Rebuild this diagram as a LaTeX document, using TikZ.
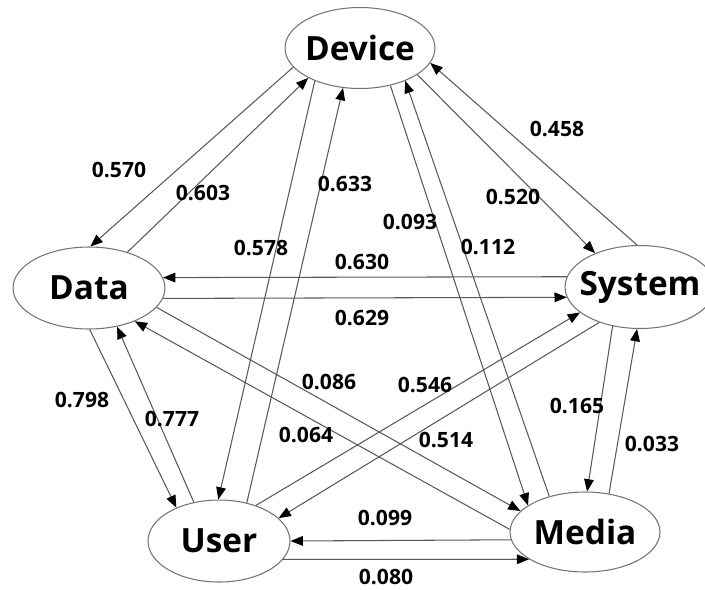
\documentclass[tikz,border=0pt]{standalone}
\usepackage{fontspec}
\setmainfont{Open Sans}
\usetikzlibrary{shapes.geometric,arrows.meta}
\newcommand{\fname}[1]{\makebox[0pt]{#1}}

\begin{document}
\begin{tikzpicture}[x=0.02cm, y=-0.02cm,
  factor/.style={ellipse, draw=black!55, line width=0.6pt, inner sep=0pt, minimum width=3cm, minimum height=1.62cm, font=\bfseries\fontsize{19}{19}\selectfont},
  weight/.style={inner sep=1pt, font=\bfseries\fontsize{12}{12}\selectfont},
  link/.style={draw=black!65, line width=0.6pt, -{Triangle[length=7pt, width=5.5pt, black]}}]
\useasboundingbox (0,0) rectangle (705,589);

\node[factor] (dev) at (360,48) {\fname{Device}};
\node[factor, minimum width=3.04cm, minimum height=1.64cm] (data) at (89,288) {\fname{Data}};
\node[factor, minimum height=1.66cm] (sys) at (640,287) {\fname{System}};
\node[factor, minimum width=2.84cm, minimum height=1.64cm] (user) at (219,541) {\fname{User}};
\node[factor, minimum height=1.6cm] (med) at (585,532) {\fname{Media}};

\draw[link] (dev.196) -- (data.88);
\draw[link] (data.43) -- (dev.210);
\draw[link] (dev.216) -- (user.91);
\draw[link] (user.54) -- (dev.247);
\draw[link] (dev.309) -- (med.155);
\draw[link] (med.135) -- (dev.324);
\draw[link] (dev.335) -- (sys.143);
\draw[link] (sys.94) -- (dev.348);
\draw[link] (sys.172) -- (data.8);
\draw[link] (data.352) -- (sys.188);
\draw[link] (data.271) -- (user.142);
\draw[link] (user.123) -- (data.306);
\draw[link] (data.344) -- (med.162);
\draw[link] (med.178) -- (data.324);
\draw[link] (user.44) -- (sys.203);
\draw[link] (sys.221) -- (user.21);
\draw[link] (sys.235) -- (med.87);
\draw[link] (med.58) -- (sys.266);
\draw[link] (med.186) -- (user.0);
\draw[link] (user.344) -- (med.206);

\node[weight] (w570) at (119,170) {0.570};
\node[weight] (w603) at (203,193) {0.603};
\node[weight] (w578) at (261,248) {0.578};
\node[weight] (w633) at (345,184) {0.633};
\node[weight] (w630) at (362,262) {0.630};
\node[weight] (w629) at (362,318) {0.629};
\node[weight] (w093) at (410,222) {0.093};
\node[weight] (w112) at (488,247) {0.112};
\node[weight] (w520) at (513,197) {0.520};
\node[weight] (w458) at (557,129) {0.458};
\node[weight] (w798) at (82,400) {0.798};
\node[weight] (w777) at (172,419) {0.777};
\node[weight] (w086) at (329,382) {0.086};
\node[weight] (w064) at (306,435) {0.064};
\node[weight] (w546) at (425,385) {0.546};
\node[weight] (w514) at (446,440) {0.514};
\node[weight] (w165) at (577,406) {0.165};
\node[weight] (w033) at (652,444) {0.033};
\node[weight] (w099) at (385,518) {0.099};
\node[weight] (w080) at (386,577) {0.080};
\end{tikzpicture}
\end{document}
